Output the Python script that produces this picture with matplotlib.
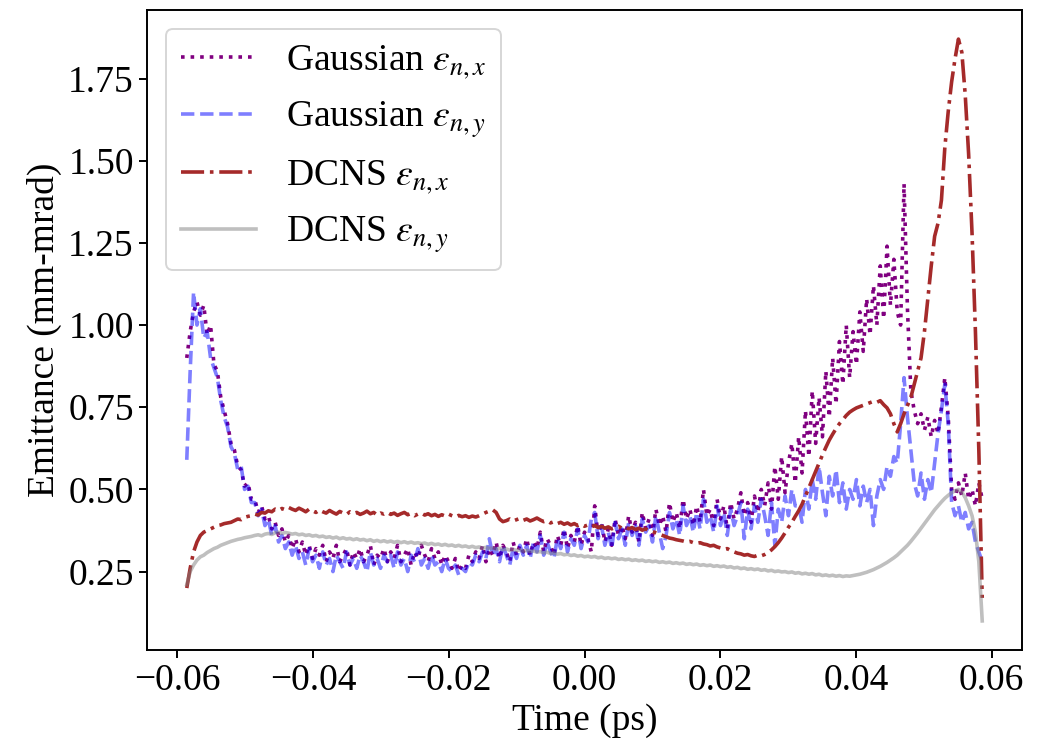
import numpy as np
import matplotlib
matplotlib.use("Agg")
import matplotlib.pyplot as plt
from matplotlib.ticker import FuncFormatter

# ---- data ----
T_START, T_END, N_SAMPLES = -0.0586, 0.0586, 235

gauss_x = [
    0.90, 0.98, 1.04, 1.07, 1.03, 1.06, 0.97, 1.00, 0.88, 0.86,
    0.78, 0.74, 0.70, 0.64, 0.62, 0.57, 0.56, 0.51, 0.52, 0.47,
    0.47, 0.43, 0.45, 0.41, 0.42, 0.38, 0.40, 0.36, 0.38, 0.34,
    0.36, 0.32, 0.35, 0.31, 0.34, 0.30, 0.33, 0.29, 0.32, 0.30,
    0.33, 0.28, 0.31, 0.29, 0.33, 0.28, 0.30, 0.32, 0.27, 0.31,
    0.29, 0.32, 0.28, 0.30, 0.33, 0.27, 0.30, 0.29, 0.32, 0.28,
    0.31, 0.29, 0.33, 0.28, 0.30, 0.32, 0.27, 0.31, 0.29, 0.33,
    0.30, 0.28, 0.32, 0.29, 0.31, 0.27, 0.30, 0.28, 0.26, 0.29,
    0.25, 0.27, 0.26, 0.30, 0.28, 0.31, 0.29, 0.33, 0.28, 0.32,
    0.30, 0.34, 0.29, 0.33, 0.31, 0.28, 0.34, 0.30, 0.33, 0.31,
    0.35, 0.30, 0.34, 0.32, 0.37, 0.31, 0.35, 0.33, 0.30, 0.36,
    0.33, 0.38, 0.32, 0.36, 0.34, 0.39, 0.33, 0.37, 0.35, 0.31,
    0.45, 0.36, 0.40, 0.34, 0.38, 0.33, 0.41, 0.36, 0.39, 0.35,
    0.42, 0.37, 0.40, 0.34, 0.43, 0.38, 0.41, 0.36, 0.44, 0.39,
    0.42, 0.37, 0.46, 0.40, 0.43, 0.38, 0.47, 0.41, 0.44, 0.39,
    0.45, 0.40, 0.50, 0.42, 0.44, 0.39, 0.47, 0.41, 0.45, 0.38,
    0.46, 0.41, 0.44, 0.49, 0.42, 0.46, 0.40, 0.48, 0.43, 0.50,
    0.45, 0.52, 0.44, 0.57, 0.47, 0.60, 0.49, 0.58, 0.64, 0.52,
    0.66, 0.55, 0.74, 0.60, 0.80, 0.64, 0.78, 0.66, 0.86, 0.72,
    0.90, 0.76, 0.95, 0.82, 1.00, 0.84, 0.98, 0.88, 1.04, 0.92,
    1.08, 0.97, 1.12, 1.00, 1.18, 1.02, 1.24, 1.06, 1.20, 1.04,
    1.00, 1.43, 1.05, 0.80, 0.74, 0.70, 0.73, 0.68, 0.72, 0.66,
    0.71, 0.67, 0.75, 0.84, 0.72, 0.50, 0.47, 0.52, 0.48, 0.55,
    0.47, 0.50, 0.45, 0.52, 0.47,
]

gauss_y = [
    0.59, 0.86, 1.10, 1.00, 1.05, 0.96, 0.98, 0.90, 0.87, 0.84,
    0.77, 0.72, 0.69, 0.63, 0.61, 0.56, 0.57, 0.50, 0.51, 0.46,
    0.46, 0.42, 0.44, 0.39, 0.41, 0.36, 0.39, 0.34, 0.36, 0.32,
    0.34, 0.30, 0.33, 0.29, 0.31, 0.27, 0.32, 0.28, 0.30, 0.26,
    0.31, 0.27, 0.29, 0.25, 0.30, 0.28, 0.26, 0.31, 0.27, 0.29,
    0.26, 0.30, 0.28, 0.25, 0.31, 0.27, 0.29, 0.26, 0.30, 0.28,
    0.30, 0.26, 0.31, 0.27, 0.29, 0.25, 0.30, 0.28, 0.32, 0.27,
    0.29, 0.26, 0.30, 0.27, 0.28, 0.25, 0.29, 0.26, 0.25, 0.27,
    0.24, 0.26, 0.25, 0.28, 0.27, 0.30, 0.28, 0.31, 0.29, 0.35,
    0.30, 0.32, 0.28, 0.33, 0.30, 0.27, 0.32, 0.29, 0.33, 0.30,
    0.33, 0.29, 0.34, 0.31, 0.36, 0.30, 0.34, 0.31, 0.29, 0.35,
    0.32, 0.37, 0.31, 0.35, 0.33, 0.38, 0.32, 0.36, 0.34, 0.41,
    0.43, 0.35, 0.39, 0.33, 0.37, 0.32, 0.40, 0.35, 0.38, 0.33,
    0.40, 0.36, 0.39, 0.33, 0.41, 0.37, 0.39, 0.34, 0.42, 0.37,
    0.32, 0.36, 0.43, 0.38, 0.41, 0.36, 0.45, 0.39, 0.42, 0.37,
    0.43, 0.38, 0.47, 0.40, 0.42, 0.37, 0.45, 0.39, 0.43, 0.36,
    0.44, 0.39, 0.42, 0.46, 0.35, 0.44, 0.38, 0.45, 0.40, 0.47,
    0.42, 0.36, 0.46, 0.33, 0.44, 0.40, 0.48, 0.42, 0.50, 0.45,
    0.45, 0.40, 0.50, 0.44, 0.53, 0.47, 0.57, 0.49, 0.42, 0.54,
    0.48, 0.56, 0.46, 0.52, 0.44, 0.50, 0.47, 0.53, 0.45, 0.51,
    0.46, 0.50, 0.39, 0.48, 0.53, 0.50, 0.57, 0.54, 0.60, 0.58,
    0.70, 0.84, 0.72, 0.62, 0.52, 0.48, 0.55, 0.47, 0.53, 0.49,
    0.58, 0.67, 0.74, 0.82, 0.70, 0.46, 0.42, 0.45, 0.40, 0.43,
    0.38, 0.40, 0.34, 0.31, 0.28,
]

dcns_x = [
    0.20, 0.26, 0.31, 0.34, 0.36, 0.37, 0.375, 0.38, 0.385, 0.39,
    0.392, 0.396, 0.398, 0.40, 0.405, 0.41, 0.408, 0.415, 0.418, 0.42,
    0.425, 0.422, 0.43, 0.428, 0.435, 0.432, 0.44, 0.436, 0.442, 0.438,
    0.445, 0.44, 0.436, 0.443, 0.438, 0.432, 0.44, 0.435, 0.43, 0.437,
    0.432, 0.428, 0.436, 0.43, 0.425, 0.433, 0.428, 0.424, 0.432, 0.427,
    0.43, 0.424, 0.428, 0.434, 0.426, 0.43, 0.422, 0.428, 0.425, 0.43,
    0.424, 0.428, 0.421, 0.426, 0.43, 0.423, 0.427, 0.42, 0.425, 0.428,
    0.422, 0.426, 0.42, 0.424, 0.418, 0.423, 0.419, 0.425, 0.42, 0.416,
    0.421, 0.417, 0.42, 0.415, 0.419, 0.416, 0.42, 0.425, 0.43, 0.434,
    0.438, 0.43, 0.41, 0.402, 0.405, 0.41, 0.404, 0.408, 0.412, 0.406,
    0.41, 0.404, 0.408, 0.413, 0.407, 0.402, 0.405, 0.398, 0.402, 0.396,
    0.40, 0.394, 0.398, 0.392, 0.396, 0.39, 0.394, 0.388, 0.392, 0.386,
    0.39, 0.384, 0.388, 0.382, 0.386, 0.38, 0.384, 0.388, 0.382, 0.386,
    0.38, 0.384, 0.378, 0.382, 0.376, 0.38, 0.374, 0.372, 0.368, 0.364,
    0.36, 0.356, 0.352, 0.35, 0.347, 0.345, 0.343, 0.34, 0.342, 0.338,
    0.336, 0.338, 0.334, 0.332, 0.328, 0.33, 0.325, 0.322, 0.318, 0.32,
    0.314, 0.31, 0.306, 0.304, 0.30, 0.302, 0.298, 0.296, 0.30, 0.298,
    0.302, 0.308, 0.316, 0.326, 0.338, 0.352, 0.368, 0.385, 0.40, 0.418,
    0.435, 0.455, 0.48, 0.505, 0.53, 0.555, 0.58, 0.605, 0.628, 0.65,
    0.668, 0.685, 0.70, 0.712, 0.725, 0.735, 0.742, 0.748, 0.752, 0.756,
    0.76, 0.764, 0.768, 0.765, 0.77, 0.758, 0.748, 0.73, 0.70, 0.675,
    0.70, 0.73, 0.755, 0.78, 0.82, 0.86, 0.90, 0.98, 1.08, 1.18,
    1.27, 1.31, 1.38, 1.54, 1.65, 1.74, 1.81, 1.87, 1.83, 1.70,
    1.52, 1.28, 0.98, 0.62, 0.17,
]

dcns_y = [
    0.21, 0.25, 0.27, 0.285, 0.295, 0.30, 0.308, 0.314, 0.32, 0.324,
    0.33, 0.334, 0.338, 0.342, 0.345, 0.348, 0.35, 0.353, 0.355, 0.357,
    0.36, 0.362, 0.359, 0.364, 0.366, 0.363, 0.368, 0.37, 0.366, 0.369,
    0.367, 0.364, 0.366, 0.362, 0.364, 0.36, 0.362, 0.358, 0.36, 0.356,
    0.358, 0.354, 0.356, 0.352, 0.355, 0.35, 0.353, 0.349, 0.351, 0.347,
    0.35, 0.346, 0.348, 0.344, 0.347, 0.342, 0.345, 0.341, 0.344, 0.34,
    0.343, 0.339, 0.342, 0.338, 0.341, 0.337, 0.34, 0.336, 0.338, 0.335,
    0.337, 0.333, 0.336, 0.332, 0.334, 0.33, 0.333, 0.329, 0.331, 0.327,
    0.33, 0.326, 0.328, 0.324, 0.327, 0.323, 0.325, 0.321, 0.324, 0.32,
    0.322, 0.318, 0.321, 0.317, 0.319, 0.315, 0.318, 0.314, 0.316, 0.312,
    0.315, 0.311, 0.313, 0.309, 0.311, 0.307, 0.309, 0.305, 0.307, 0.303,
    0.305, 0.301, 0.303, 0.299, 0.301, 0.297, 0.299, 0.295, 0.297, 0.294,
    0.296, 0.292, 0.294, 0.29, 0.292, 0.289, 0.291, 0.287, 0.289, 0.286,
    0.288, 0.284, 0.286, 0.283, 0.285, 0.281, 0.283, 0.28, 0.282, 0.278,
    0.28, 0.277, 0.279, 0.275, 0.277, 0.274, 0.276, 0.272, 0.274, 0.271,
    0.273, 0.269, 0.271, 0.268, 0.27, 0.266, 0.268, 0.265, 0.267, 0.263,
    0.265, 0.261, 0.263, 0.259, 0.261, 0.257, 0.259, 0.256, 0.258, 0.254,
    0.256, 0.252, 0.254, 0.25, 0.252, 0.249, 0.25, 0.247, 0.249, 0.245,
    0.247, 0.243, 0.245, 0.242, 0.244, 0.24, 0.242, 0.238, 0.24, 0.237,
    0.239, 0.236, 0.238, 0.235, 0.237, 0.236, 0.238, 0.24, 0.242, 0.245,
    0.248, 0.252, 0.256, 0.261, 0.266, 0.272, 0.278, 0.285, 0.292, 0.30,
    0.31, 0.32, 0.33, 0.342, 0.355, 0.368, 0.382, 0.396, 0.41, 0.424,
    0.438, 0.45, 0.462, 0.473, 0.482, 0.49, 0.496, 0.50, 0.492, 0.475,
    0.45, 0.42, 0.37, 0.28, 0.10,
]

labels = [r"Gaussian $\varepsilon_{n,x}$", r"Gaussian $\varepsilon_{n,y}$",
          r"DCNS $\varepsilon_{n,x}$", r"DCNS $\varepsilon_{n,y}$"]
x_ticks = [-0.06, -0.04, -0.02, 0.0, 0.02, 0.04, 0.06]
y_ticks = [0.25, 0.50, 0.75, 1.00, 1.25, 1.50, 1.75]

# ---- styling ----
plt.rcParams["font.family"] = ["Liberation Serif", "DejaVu Serif"]
plt.rcParams["mathtext.fontset"] = "stix"
FS = 27
plt.rcParams["font.size"] = FS

time = np.linspace(T_START, T_END, N_SAMPLES)

fig = plt.figure(figsize=(10.48, 7.45), dpi=100)
ax = fig.add_axes([147 / 1048, 95 / 745, 875 / 1048, 640 / 745])

LW = 2.6
ax.plot(time, gauss_x, linestyle=":", color="purple", lw=LW, label=labels[0])
ax.plot(time, gauss_y, linestyle="--", color="blue", alpha=0.5, lw=LW, label=labels[1])
ax.plot(time, dcns_x, linestyle="-.", color="brown", lw=LW, label=labels[2])
ax.plot(time, dcns_y, linestyle="-", color="grey", alpha=0.5, lw=LW, label=labels[3])

fmt = FuncFormatter(lambda v, p: ("%.2f" % v).replace("-", "\u2212"))
ax.set_xticks(x_ticks)
ax.set_yticks(y_ticks)
ax.xaxis.set_major_formatter(fmt)
ax.yaxis.set_major_formatter(fmt)
ax.tick_params(labelsize=FS, length=6, width=1.4)
for s in ax.spines.values():
    s.set_linewidth(1.4)

ax.set_xlabel("Time (ps)", fontsize=FS)
ax.set_ylabel("Emittance (mm-mrad)", fontsize=FS)

leg = ax.legend(loc="upper left", fontsize=FS, handlelength=2.0)
leg.get_frame().set_linewidth(1.4)

fig.savefig("out.png", dpi=100)
